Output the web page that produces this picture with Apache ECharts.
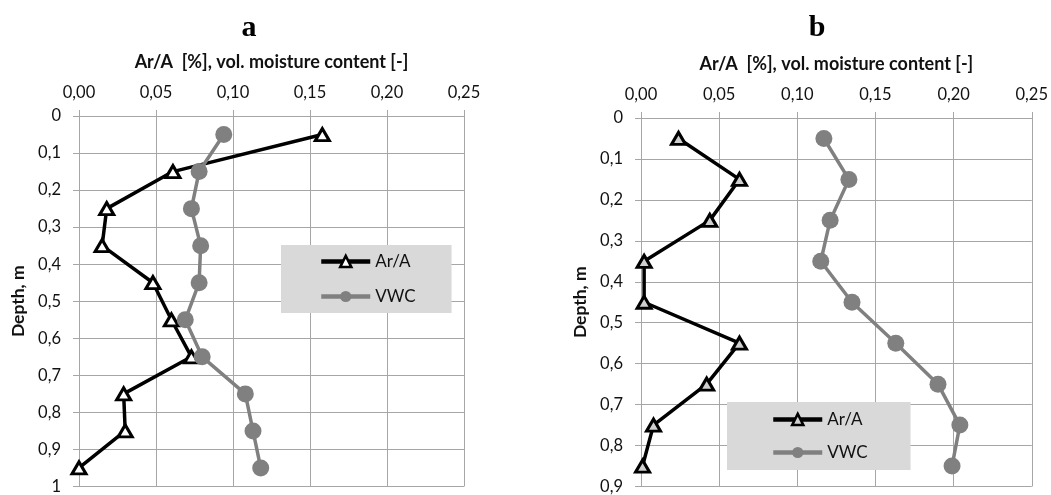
<!DOCTYPE html>
<html>
<head>
<meta charset="utf-8">
<script src="https://cdn.jsdelivr.net/npm/echarts@6/dist/echarts.min.js"></script>
<style>html,body{margin:0;padding:0;background:#fff}#c{width:1051px;height:495px}</style>
</head>
<body>
<div id="c"></div>
<script>
// ---- data ----
const depthA = [0.05, 0.15, 0.25, 0.35, 0.45, 0.55, 0.65, 0.75, 0.85, 0.95];
const arA_a  = [0.158, 0.061, 0.018, 0.015, 0.048, 0.060, 0.073, 0.029, 0.030, 0.000];
const vwc_a  = [0.094, 0.078, 0.073, 0.079, 0.078, 0.069, 0.080, 0.108, 0.113, 0.118];

const depthB = [0.05, 0.15, 0.25, 0.35, 0.45, 0.55, 0.65, 0.75, 0.85];
const arA_b  = [0.024, 0.063, 0.044, 0.002, 0.002, 0.063, 0.042, 0.008, 0.001];
const vwc_b  = [0.117, 0.133, 0.121, 0.115, 0.135, 0.163, 0.190, 0.204, 0.199];

const xTickLabels  = ['0,00', '0,05', '0,10', '0,15', '0,20', '0,25'];
const yTickLabelsA = ['0', '0,1', '0,2', '0,3', '0,4', '0,5', '0,6', '0,7', '0,8', '0,9', '1'];
const yTickLabelsB = ['0', '0,1', '0,2', '0,3', '0,4', '0,5', '0,6', '0,7', '0,8', '0,9'];
const panelTitles = ['a', 'b'];
const seriesNames = ['Ar/A', 'VWC'];
const xAxisTitle = 'Ar/A  [%], vol. moisture content [-]';
const yAxisTitle = 'Depth, m';

// ---- chart ----
const pairs = (xs, ys) => xs.map((x, i) => [x, ys[i]]);
const FONT = 'Lato';
const GRIDC = '#a6a6a6';
const TXT = '#111';

function xAxis(gi) {
  return {
    gridIndex: gi, type: 'value', position: 'top', min: 0, max: 0.25, interval: 0.05,
    name: xAxisTitle, nameLocation: 'middle', nameGap: 45,
    nameTextStyle: { fontFamily: FONT, fontWeight: 'bold', fontSize: 18, color: TXT },
    axisLine: { show: true, lineStyle: { color: GRIDC, width: 1 } },
    axisTick: { show: true, length: 6, lineStyle: { color: GRIDC } },
    splitLine: { show: true, lineStyle: { color: GRIDC, width: 1 } },
    axisLabel: { margin: 15, fontFamily: FONT, fontSize: 16.5, color: TXT,
      formatter: v => xTickLabels[Math.round(v / 0.05)] }
  };
}
function yAxis(gi, max, labels) {
  return {
    gridIndex: gi, type: 'value', inverse: true, min: 0, max: max, interval: 0.1,
    name: yAxisTitle, nameLocation: 'middle', nameGap: 52, nameRotate: 90,
    nameTextStyle: { fontFamily: FONT, fontWeight: 'bold', fontSize: 17.5, color: TXT },
    axisLine: { show: true, lineStyle: { color: GRIDC, width: 1 } },
    axisTick: { show: true, length: 6, lineStyle: { color: GRIDC } },
    splitLine: { show: true, lineStyle: { color: GRIDC, width: 1 } },
    axisLabel: { margin: 18, fontFamily: FONT, fontSize: 16.5, color: TXT,
      formatter: v => labels[Math.round(v / 0.1)] }
  };
}
function arSeries(i, xs, ys, fill) {
  return {
    name: seriesNames[0], type: 'line', xAxisIndex: i, yAxisIndex: i,
    data: pairs(xs, ys), symbol: 'triangle', symbolSize: [14, 12],
    lineStyle: { color: '#000', width: 3.5 },
    itemStyle: { color: fill, borderColor: '#000', borderWidth: 3 },
    animation: false, z: 2
  };
}
function vwcSeries(i, xs, ys) {
  return {
    name: seriesNames[1], type: 'line', xAxisIndex: i, yAxisIndex: i,
    data: pairs(xs, ys), symbol: 'circle', symbolSize: 17,
    lineStyle: { color: '#808080', width: 3.5 },
    itemStyle: { color: '#808080', borderWidth: 0 },
    animation: false, z: 3
  };
}
function legend(left, top, padding, gap, fill) {
  return {
    orient: 'vertical', left: left, top: top, padding: padding, itemGap: gap,
    backgroundColor: '#d9d9d9', itemWidth: 49, itemHeight: 14,
    selectedMode: false,
    textStyle: { fontFamily: FONT, fontSize: 17, color: TXT },
    data: [
      { name: seriesNames[0], lineStyle: { width: 4.5, color: '#000' },
        itemStyle: { color: fill, borderColor: '#000', borderWidth: 2.5 } },
      { name: seriesNames[1], lineStyle: { width: 4.5, color: '#808080' } }
    ]
  };
}

const chart = echarts.init(document.getElementById('c'), null, { renderer: 'canvas' });
chart.setOption({
  animation: false,
  title: [
    { text: panelTitles[0], left: 244, top: 8, textAlign: 'center',
      textStyle: { fontFamily: 'Liberation Serif', fontWeight: 'bold', fontSize: 30, color: '#000' } },
    { text: panelTitles[1], left: 812, top: 8, textAlign: 'center',
      textStyle: { fontFamily: 'Liberation Serif', fontWeight: 'bold', fontSize: 30, color: '#000' } }
  ],
  grid: [
    { left: 79, top: 116, width: 385, height: 371 },
    { left: 641, top: 118, width: 392, height: 370 }
  ],
  xAxis: [xAxis(0), xAxis(1)],
  yAxis: [yAxis(0, 1, yTickLabelsA), yAxis(1, 0.9, yTickLabelsB)],
  legend: [
    legend(281, 245, [8, 36, 8, 38], 18, '#fff'),
    legend(727, 402, [9, 43, 9, 44], 16, '#d0d0d0')
  ],
  series: [
    arSeries(0, arA_a, depthA, '#fff'),
    vwcSeries(0, vwc_a, depthA),
    arSeries(1, arA_b, depthB, '#d0d0d0'),
    vwcSeries(1, vwc_b, depthB)
  ]
});
</script>
</body>
</html>
